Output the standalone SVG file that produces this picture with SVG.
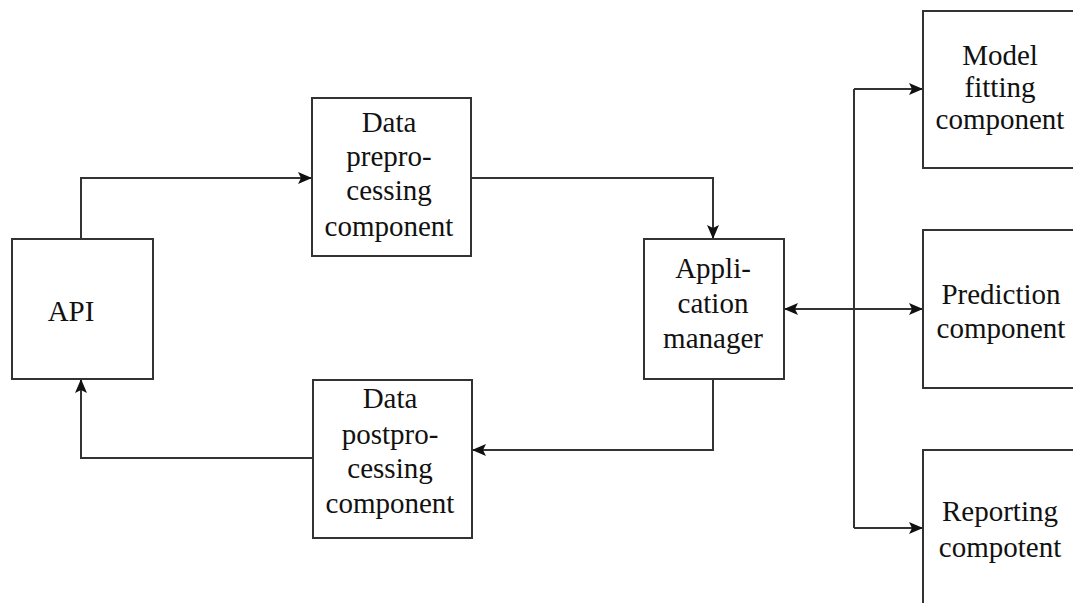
<svg xmlns="http://www.w3.org/2000/svg" width="1073" height="603" viewBox="0 0 1073 603">
<style>
.box{fill:#fff;stroke:#333;stroke-width:2}
.t{font-family:"Liberation Serif","Times New Roman",serif;font-size:29px;fill:#111;text-anchor:middle}
.c{fill:none;stroke:#333;stroke-width:2}
</style>
<defs>
<marker id="ah" markerWidth="14" markerHeight="12" refX="13" refY="6" orient="auto-start-reverse" markerUnits="userSpaceOnUse">
<path d="M0,0 L14,6 L0,12 L3,6 Z" fill="#111"/>
</marker>
</defs>
<rect width="1073" height="603" fill="#fff"/>
<g id="connectors">
<path class="c" d="M81,239 V178 H311" marker-end="url(#ah)"/>
<path class="c" d="M471,178 H713 V238" marker-end="url(#ah)"/>
<path class="c" d="M713,379 V450 H473" marker-end="url(#ah)"/>
<path class="c" d="M313,458 H81 V380" marker-end="url(#ah)"/>
<path class="c" d="M785,309 H922" marker-start="url(#ah)" marker-end="url(#ah)"/>
<path class="c" d="M854,89 V528"/>
<path class="c" d="M854,89 H922" marker-end="url(#ah)"/>
<path class="c" d="M854,528 H922" marker-end="url(#ah)"/>
</g>
<g id="api">
<rect class="box" x="12" y="239" width="141" height="140"/>
<text class="t" x="71" y="321">API</text>
</g>
<g id="preprocessing">
<rect class="box" x="312" y="98" width="159" height="158"/>
<text class="t" x="389" y="132">Data</text>
<text class="t" x="389" y="166">prepro-</text>
<text class="t" x="389" y="200">cessing</text>
<text class="t" x="389" y="236">component</text>
</g>
<g id="app-manager">
<rect class="box" x="644" y="239" width="140" height="140"/>
<text class="t" x="713" y="278">Appli-</text>
<text class="t" x="713" y="313">cation</text>
<text class="t" x="713" y="348">manager</text>
</g>
<g id="postprocessing">
<rect class="box" x="313" y="380" width="159" height="158"/>
<text class="t" x="390" y="408">Data</text>
<text class="t" x="390" y="444">postpro-</text>
<text class="t" x="390" y="478">cessing</text>
<text class="t" x="390" y="513">component</text>
</g>
<g id="model-fitting">
<rect class="box" x="923" y="11" width="152" height="157"/>
<text class="t" x="1000" y="65">Model</text>
<text class="t" x="1000" y="97">fitting</text>
<text class="t" x="1000" y="129">component</text>
</g>
<g id="prediction">
<rect class="box" x="923" y="230" width="152" height="158"/>
<text class="t" x="1001" y="304">Prediction</text>
<text class="t" x="1001" y="338">component</text>
</g>
<g id="reporting">
<rect class="box" x="923" y="450" width="152" height="160"/>
<text class="t" x="1000" y="521">Reporting</text>
<text class="t" x="1000" y="557">compotent</text>
</g>
</svg>
